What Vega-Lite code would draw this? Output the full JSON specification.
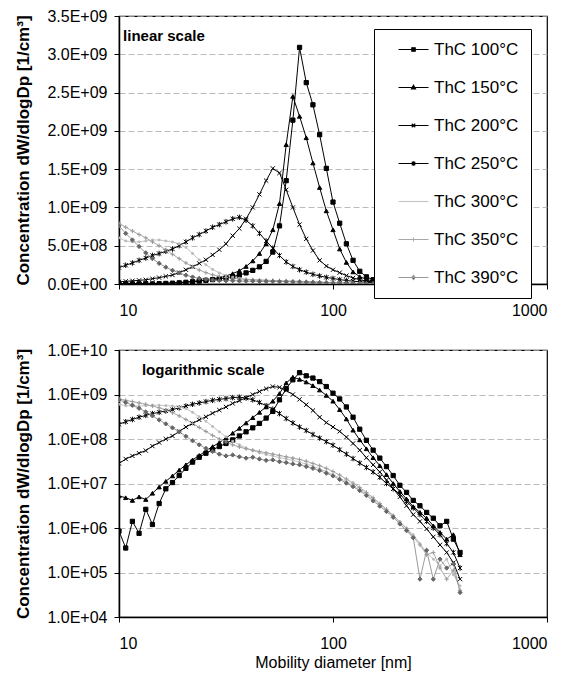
{
  "$schema": "https://vega.github.io/schema/vega-lite/v6.json",
  "padding": {"left": 14, "top": 7, "right": 5, "bottom": 5},
  "background": "#ffffff",
  "datasets": {
    "sizes": [
      {"series":"ThC 100°C","dp":10,"conc":8.51e5},{"series":"ThC 100°C","dp":10.75,"conc":3.55e5},{"series":"ThC 100°C","dp":11.55,"conc":1.41e6},{"series":"ThC 100°C","dp":12.41,"conc":7.59e5},{"series":"ThC 100°C","dp":13.34,"conc":2.63e6},{"series":"ThC 100°C","dp":14.33,"conc":1.2e6},{"series":"ThC 100°C","dp":15.4,"conc":3.55e6},{"series":"ThC 100°C","dp":16.55,"conc":7.59e6},{"series":"ThC 100°C","dp":17.78,"conc":1.05e7},{"series":"ThC 100°C","dp":19.11,"conc":1.51e7},{"series":"ThC 100°C","dp":20.54,"conc":2.19e7},{"series":"ThC 100°C","dp":22.07,"conc":3.02e7},{"series":"ThC 100°C","dp":23.71,"conc":3.89e7},{"series":"ThC 100°C","dp":25.48,"conc":4.79e7},{"series":"ThC 100°C","dp":27.38,"conc":5.75e7},{"series":"ThC 100°C","dp":29.43,"conc":6.76e7},{"series":"ThC 100°C","dp":31.62,"conc":7.94e7},{"series":"ThC 100°C","dp":33.98,"conc":9.55e7},{"series":"ThC 100°C","dp":36.52,"conc":1.17e8},{"series":"ThC 100°C","dp":39.24,"conc":1.45e8},{"series":"ThC 100°C","dp":42.17,"conc":1.78e8},{"series":"ThC 100°C","dp":45.32,"conc":2.24e8},{"series":"ThC 100°C","dp":48.7,"conc":2.95e8},{"series":"ThC 100°C","dp":52.33,"conc":4.17e8},{"series":"ThC 100°C","dp":56.23,"conc":7.59e8},{"series":"ThC 100°C","dp":60.43,"conc":1.35e9},{"series":"ThC 100°C","dp":64.94,"conc":2.14e9},{"series":"ThC 100°C","dp":69.78,"conc":3.09e9},{"series":"ThC 100°C","dp":74.99,"conc":2.63e9},{"series":"ThC 100°C","dp":80.58,"conc":2.34e9},{"series":"ThC 100°C","dp":86.6,"conc":1.95e9},{"series":"ThC 100°C","dp":93.06,"conc":1.51e9},{"series":"ThC 100°C","dp":100,"conc":1.07e9},{"series":"ThC 100°C","dp":107.46,"conc":7.94e8},{"series":"ThC 100°C","dp":115.48,"conc":5.25e8},{"series":"ThC 100°C","dp":124.09,"conc":3.09e8},{"series":"ThC 100°C","dp":133.35,"conc":1.66e8},{"series":"ThC 100°C","dp":143.3,"conc":9.33e7},{"series":"ThC 100°C","dp":153.99,"conc":5.62e7},{"series":"ThC 100°C","dp":165.48,"conc":3.72e7},{"series":"ThC 100°C","dp":177.83,"conc":2.4e7},{"series":"ThC 100°C","dp":191.09,"conc":1.51e7},{"series":"ThC 100°C","dp":205.35,"conc":9.12e6},{"series":"ThC 100°C","dp":220.67,"conc":6.31e6},{"series":"ThC 100°C","dp":237.14,"conc":4.17e6},{"series":"ThC 100°C","dp":254.83,"conc":3.16e6},{"series":"ThC 100°C","dp":273.84,"conc":2.24e6},{"series":"ThC 100°C","dp":294.27,"conc":1.66e6},{"series":"ThC 100°C","dp":316.23,"conc":1.12e6},{"series":"ThC 100°C","dp":339.82,"conc":1.41e6},{"series":"ThC 100°C","dp":365.17,"conc":5.62e5},{"series":"ThC 100°C","dp":392.42,"conc":2.82e5},
      {"series":"ThC 150°C","dp":10,"conc":5.25e6},{"series":"ThC 150°C","dp":10.75,"conc":4.79e6},{"series":"ThC 150°C","dp":11.55,"conc":4.17e6},{"series":"ThC 150°C","dp":12.41,"conc":5.01e6},{"series":"ThC 150°C","dp":13.34,"conc":4.37e6},{"series":"ThC 150°C","dp":14.33,"conc":6.03e6},{"series":"ThC 150°C","dp":15.4,"conc":8.32e6},{"series":"ThC 150°C","dp":16.55,"conc":1.12e7},{"series":"ThC 150°C","dp":17.78,"conc":1.48e7},{"series":"ThC 150°C","dp":19.11,"conc":2.0e7},{"series":"ThC 150°C","dp":20.54,"conc":2.63e7},{"series":"ThC 150°C","dp":22.07,"conc":3.39e7},{"series":"ThC 150°C","dp":23.71,"conc":4.27e7},{"series":"ThC 150°C","dp":25.48,"conc":5.37e7},{"series":"ThC 150°C","dp":27.38,"conc":6.76e7},{"series":"ThC 150°C","dp":29.43,"conc":8.32e7},{"series":"ThC 150°C","dp":31.62,"conc":1.05e8},{"series":"ThC 150°C","dp":33.98,"conc":1.35e8},{"series":"ThC 150°C","dp":36.52,"conc":1.74e8},{"series":"ThC 150°C","dp":39.24,"conc":2.29e8},{"series":"ThC 150°C","dp":42.17,"conc":3.02e8},{"series":"ThC 150°C","dp":45.32,"conc":3.98e8},{"series":"ThC 150°C","dp":48.7,"conc":5.25e8},{"series":"ThC 150°C","dp":52.33,"conc":7.08e8},{"series":"ThC 150°C","dp":56.23,"conc":1.05e9},{"series":"ThC 150°C","dp":60.43,"conc":1.82e9},{"series":"ThC 150°C","dp":64.94,"conc":2.45e9},{"series":"ThC 150°C","dp":69.78,"conc":2.19e9},{"series":"ThC 150°C","dp":74.99,"conc":1.91e9},{"series":"ThC 150°C","dp":80.58,"conc":1.58e9},{"series":"ThC 150°C","dp":86.6,"conc":1.26e9},{"series":"ThC 150°C","dp":93.06,"conc":9.55e8},{"series":"ThC 150°C","dp":100,"conc":7.08e8},{"series":"ThC 150°C","dp":107.46,"conc":4.57e8},{"series":"ThC 150°C","dp":115.48,"conc":2.82e8},{"series":"ThC 150°C","dp":124.09,"conc":1.58e8},{"series":"ThC 150°C","dp":133.35,"conc":9.55e7},{"series":"ThC 150°C","dp":143.3,"conc":6.03e7},{"series":"ThC 150°C","dp":153.99,"conc":3.8e7},{"series":"ThC 150°C","dp":165.48,"conc":2.51e7},{"series":"ThC 150°C","dp":177.83,"conc":1.58e7},{"series":"ThC 150°C","dp":191.09,"conc":1.0e7},{"series":"ThC 150°C","dp":205.35,"conc":6.61e6},{"series":"ThC 150°C","dp":220.67,"conc":4.47e6},{"series":"ThC 150°C","dp":237.14,"conc":3.02e6},{"series":"ThC 150°C","dp":254.83,"conc":2.24e6},{"series":"ThC 150°C","dp":273.84,"conc":1.66e6},{"series":"ThC 150°C","dp":294.27,"conc":1.12e6},{"series":"ThC 150°C","dp":316.23,"conc":7.94e5},{"series":"ThC 150°C","dp":339.82,"conc":5.62e5},{"series":"ThC 150°C","dp":365.17,"conc":7.08e5},{"series":"ThC 150°C","dp":392.42,"conc":2.51e5},
      {"series":"ThC 200°C","dp":10,"conc":2.82e7},{"series":"ThC 200°C","dp":10.75,"conc":3.55e7},{"series":"ThC 200°C","dp":11.55,"conc":4.17e7},{"series":"ThC 200°C","dp":12.41,"conc":4.79e7},{"series":"ThC 200°C","dp":13.34,"conc":5.5e7},{"series":"ThC 200°C","dp":14.33,"conc":6.92e7},{"series":"ThC 200°C","dp":15.4,"conc":8.32e7},{"series":"ThC 200°C","dp":16.55,"conc":1.0e8},{"series":"ThC 200°C","dp":17.78,"conc":1.17e8},{"series":"ThC 200°C","dp":19.11,"conc":1.48e8},{"series":"ThC 200°C","dp":20.54,"conc":1.86e8},{"series":"ThC 200°C","dp":22.07,"conc":2.24e8},{"series":"ThC 200°C","dp":23.71,"conc":2.69e8},{"series":"ThC 200°C","dp":25.48,"conc":3.16e8},{"series":"ThC 200°C","dp":27.38,"conc":3.8e8},{"series":"ThC 200°C","dp":29.43,"conc":4.47e8},{"series":"ThC 200°C","dp":31.62,"conc":5.25e8},{"series":"ThC 200°C","dp":33.98,"conc":6.31e8},{"series":"ThC 200°C","dp":36.52,"conc":7.24e8},{"series":"ThC 200°C","dp":39.24,"conc":8.51e8},{"series":"ThC 200°C","dp":42.17,"conc":1.0e9},{"series":"ThC 200°C","dp":45.32,"conc":1.17e9},{"series":"ThC 200°C","dp":48.7,"conc":1.35e9},{"series":"ThC 200°C","dp":52.33,"conc":1.51e9},{"series":"ThC 200°C","dp":56.23,"conc":1.45e9},{"series":"ThC 200°C","dp":60.43,"conc":1.23e9},{"series":"ThC 200°C","dp":64.94,"conc":1.0e9},{"series":"ThC 200°C","dp":69.78,"conc":7.76e8},{"series":"ThC 200°C","dp":74.99,"conc":5.89e8},{"series":"ThC 200°C","dp":80.58,"conc":4.37e8},{"series":"ThC 200°C","dp":86.6,"conc":3.09e8},{"series":"ThC 200°C","dp":93.06,"conc":2.34e8},{"series":"ThC 200°C","dp":100,"conc":1.86e8},{"series":"ThC 200°C","dp":107.46,"conc":1.48e8},{"series":"ThC 200°C","dp":115.48,"conc":1.1e8},{"series":"ThC 200°C","dp":124.09,"conc":7.94e7},{"series":"ThC 200°C","dp":133.35,"conc":5.62e7},{"series":"ThC 200°C","dp":143.3,"conc":3.8e7},{"series":"ThC 200°C","dp":153.99,"conc":2.63e7},{"series":"ThC 200°C","dp":165.48,"conc":1.82e7},{"series":"ThC 200°C","dp":177.83,"conc":1.2e7},{"series":"ThC 200°C","dp":191.09,"conc":7.59e6},{"series":"ThC 200°C","dp":205.35,"conc":5.01e6},{"series":"ThC 200°C","dp":220.67,"conc":3.16e6},{"series":"ThC 200°C","dp":237.14,"conc":2.0e6},{"series":"ThC 200°C","dp":254.83,"conc":1.41e6},{"series":"ThC 200°C","dp":273.84,"conc":9.55e5},{"series":"ThC 200°C","dp":294.27,"conc":6.31e5},{"series":"ThC 200°C","dp":316.23,"conc":4.17e5},{"series":"ThC 200°C","dp":339.82,"conc":2.82e5},{"series":"ThC 200°C","dp":365.17,"conc":1.66e5},{"series":"ThC 200°C","dp":392.42,"conc":7.08e4},
      {"series":"ThC 250°C","dp":10,"conc":2.14e8},{"series":"ThC 250°C","dp":10.75,"conc":2.45e8},{"series":"ThC 250°C","dp":11.55,"conc":2.75e8},{"series":"ThC 250°C","dp":12.41,"conc":3.09e8},{"series":"ThC 250°C","dp":13.34,"conc":3.39e8},{"series":"ThC 250°C","dp":14.33,"conc":3.72e8},{"series":"ThC 250°C","dp":15.4,"conc":3.98e8},{"series":"ThC 250°C","dp":16.55,"conc":4.27e8},{"series":"ThC 250°C","dp":17.78,"conc":4.57e8},{"series":"ThC 250°C","dp":19.11,"conc":5.01e8},{"series":"ThC 250°C","dp":20.54,"conc":5.5e8},{"series":"ThC 250°C","dp":22.07,"conc":6.03e8},{"series":"ThC 250°C","dp":23.71,"conc":6.46e8},{"series":"ThC 250°C","dp":25.48,"conc":6.92e8},{"series":"ThC 250°C","dp":27.38,"conc":7.41e8},{"series":"ThC 250°C","dp":29.43,"conc":7.76e8},{"series":"ThC 250°C","dp":31.62,"conc":8.13e8},{"series":"ThC 250°C","dp":33.98,"conc":8.51e8},{"series":"ThC 250°C","dp":36.52,"conc":8.71e8},{"series":"ThC 250°C","dp":39.24,"conc":8.32e8},{"series":"ThC 250°C","dp":42.17,"conc":7.59e8},{"series":"ThC 250°C","dp":45.32,"conc":6.61e8},{"series":"ThC 250°C","dp":48.7,"conc":5.62e8},{"series":"ThC 250°C","dp":52.33,"conc":4.68e8},{"series":"ThC 250°C","dp":56.23,"conc":3.72e8},{"series":"ThC 250°C","dp":60.43,"conc":2.88e8},{"series":"ThC 250°C","dp":64.94,"conc":2.29e8},{"series":"ThC 250°C","dp":69.78,"conc":1.86e8},{"series":"ThC 250°C","dp":74.99,"conc":1.55e8},{"series":"ThC 250°C","dp":80.58,"conc":1.26e8},{"series":"ThC 250°C","dp":86.6,"conc":1.05e8},{"series":"ThC 250°C","dp":93.06,"conc":8.71e7},{"series":"ThC 250°C","dp":100,"conc":7.24e7},{"series":"ThC 250°C","dp":107.46,"conc":5.75e7},{"series":"ThC 250°C","dp":115.48,"conc":4.57e7},{"series":"ThC 250°C","dp":124.09,"conc":3.63e7},{"series":"ThC 250°C","dp":133.35,"conc":2.88e7},{"series":"ThC 250°C","dp":143.3,"conc":2.29e7},{"series":"ThC 250°C","dp":153.99,"conc":1.82e7},{"series":"ThC 250°C","dp":165.48,"conc":1.38e7},{"series":"ThC 250°C","dp":177.83,"conc":1.0e7},{"series":"ThC 250°C","dp":191.09,"conc":7.59e6},{"series":"ThC 250°C","dp":205.35,"conc":5.75e6},{"series":"ThC 250°C","dp":220.67,"conc":3.98e6},{"series":"ThC 250°C","dp":237.14,"conc":2.82e6},{"series":"ThC 250°C","dp":254.83,"conc":2.0e6},{"series":"ThC 250°C","dp":273.84,"conc":1.41e6},{"series":"ThC 250°C","dp":294.27,"conc":1.0e6},{"series":"ThC 250°C","dp":316.23,"conc":7.08e5},{"series":"ThC 250°C","dp":339.82,"conc":4.47e5},{"series":"ThC 250°C","dp":365.17,"conc":2.82e5},{"series":"ThC 250°C","dp":392.42,"conc":1.26e5},
      {"series":"ThC 300°C","dp":10,"conc":6.03e8},{"series":"ThC 300°C","dp":10.75,"conc":5.62e8},{"series":"ThC 300°C","dp":11.55,"conc":5.5e8},{"series":"ThC 300°C","dp":12.41,"conc":5.5e8},{"series":"ThC 300°C","dp":13.34,"conc":5.62e8},{"series":"ThC 300°C","dp":14.33,"conc":5.75e8},{"series":"ThC 300°C","dp":15.4,"conc":5.75e8},{"series":"ThC 300°C","dp":16.55,"conc":5.62e8},{"series":"ThC 300°C","dp":17.78,"conc":5.5e8},{"series":"ThC 300°C","dp":19.11,"conc":5.25e8},{"series":"ThC 300°C","dp":20.54,"conc":4.79e8},{"series":"ThC 300°C","dp":22.07,"conc":3.98e8},{"series":"ThC 300°C","dp":23.71,"conc":3.16e8},{"series":"ThC 300°C","dp":25.48,"conc":2.51e8},{"series":"ThC 300°C","dp":27.38,"conc":1.91e8},{"series":"ThC 300°C","dp":29.43,"conc":1.45e8},{"series":"ThC 300°C","dp":31.62,"conc":1.12e8},{"series":"ThC 300°C","dp":33.98,"conc":8.91e7},{"series":"ThC 300°C","dp":36.52,"conc":7.41e7},{"series":"ThC 300°C","dp":39.24,"conc":6.31e7},{"series":"ThC 300°C","dp":42.17,"conc":5.5e7},{"series":"ThC 300°C","dp":45.32,"conc":4.9e7},{"series":"ThC 300°C","dp":48.7,"conc":4.47e7},{"series":"ThC 300°C","dp":52.33,"conc":4.17e7},{"series":"ThC 300°C","dp":56.23,"conc":3.8e7},{"series":"ThC 300°C","dp":60.43,"conc":3.55e7},{"series":"ThC 300°C","dp":64.94,"conc":3.31e7},{"series":"ThC 300°C","dp":69.78,"conc":3.02e7},{"series":"ThC 300°C","dp":74.99,"conc":2.75e7},{"series":"ThC 300°C","dp":80.58,"conc":2.45e7},{"series":"ThC 300°C","dp":86.6,"conc":2.14e7},{"series":"ThC 300°C","dp":93.06,"conc":1.86e7},{"series":"ThC 300°C","dp":100,"conc":1.58e7},{"series":"ThC 300°C","dp":107.46,"conc":1.32e7},{"series":"ThC 300°C","dp":115.48,"conc":1.1e7},{"series":"ThC 300°C","dp":124.09,"conc":8.91e6},{"series":"ThC 300°C","dp":133.35,"conc":7.24e6},{"series":"ThC 300°C","dp":143.3,"conc":5.75e6},{"series":"ThC 300°C","dp":153.99,"conc":4.47e6},{"series":"ThC 300°C","dp":165.48,"conc":3.31e6},{"series":"ThC 300°C","dp":177.83,"conc":2.51e6},{"series":"ThC 300°C","dp":191.09,"conc":1.91e6},{"series":"ThC 300°C","dp":205.35,"conc":1.38e6},{"series":"ThC 300°C","dp":220.67,"conc":1.0e6},{"series":"ThC 300°C","dp":237.14,"conc":7.08e5},{"series":"ThC 300°C","dp":254.83,"conc":4.47e5},{"series":"ThC 300°C","dp":273.84,"conc":2.82e5},{"series":"ThC 300°C","dp":294.27,"conc":2.0e5},{"series":"ThC 300°C","dp":316.23,"conc":1.41e5},{"series":"ThC 300°C","dp":339.82,"conc":2.0e5},{"series":"ThC 300°C","dp":365.17,"conc":8.91e4},{"series":"ThC 300°C","dp":392.42,"conc":5.01e4},
      {"series":"ThC 350°C","dp":10,"conc":7.94e8},{"series":"ThC 350°C","dp":10.75,"conc":7.41e8},{"series":"ThC 350°C","dp":11.55,"conc":6.92e8},{"series":"ThC 350°C","dp":12.41,"conc":6.46e8},{"series":"ThC 350°C","dp":13.34,"conc":6.03e8},{"series":"ThC 350°C","dp":14.33,"conc":5.5e8},{"series":"ThC 350°C","dp":15.4,"conc":5.01e8},{"series":"ThC 350°C","dp":16.55,"conc":4.47e8},{"series":"ThC 350°C","dp":17.78,"conc":3.89e8},{"series":"ThC 350°C","dp":19.11,"conc":3.31e8},{"series":"ThC 350°C","dp":20.54,"conc":2.75e8},{"series":"ThC 350°C","dp":22.07,"conc":2.24e8},{"series":"ThC 350°C","dp":23.71,"conc":1.82e8},{"series":"ThC 350°C","dp":25.48,"conc":1.48e8},{"series":"ThC 350°C","dp":27.38,"conc":1.2e8},{"series":"ThC 350°C","dp":29.43,"conc":1.0e8},{"series":"ThC 350°C","dp":31.62,"conc":8.51e7},{"series":"ThC 350°C","dp":33.98,"conc":7.41e7},{"series":"ThC 350°C","dp":36.52,"conc":6.61e7},{"series":"ThC 350°C","dp":39.24,"conc":6.03e7},{"series":"ThC 350°C","dp":42.17,"conc":5.62e7},{"series":"ThC 350°C","dp":45.32,"conc":5.25e7},{"series":"ThC 350°C","dp":48.7,"conc":4.9e7},{"series":"ThC 350°C","dp":52.33,"conc":4.57e7},{"series":"ThC 350°C","dp":56.23,"conc":4.27e7},{"series":"ThC 350°C","dp":60.43,"conc":3.98e7},{"series":"ThC 350°C","dp":64.94,"conc":3.72e7},{"series":"ThC 350°C","dp":69.78,"conc":3.47e7},{"series":"ThC 350°C","dp":74.99,"conc":3.16e7},{"series":"ThC 350°C","dp":80.58,"conc":2.82e7},{"series":"ThC 350°C","dp":86.6,"conc":2.51e7},{"series":"ThC 350°C","dp":93.06,"conc":2.19e7},{"series":"ThC 350°C","dp":100,"conc":1.86e7},{"series":"ThC 350°C","dp":107.46,"conc":1.55e7},{"series":"ThC 350°C","dp":115.48,"conc":1.26e7},{"series":"ThC 350°C","dp":124.09,"conc":1.02e7},{"series":"ThC 350°C","dp":133.35,"conc":8.13e6},{"series":"ThC 350°C","dp":143.3,"conc":6.31e6},{"series":"ThC 350°C","dp":153.99,"conc":4.79e6},{"series":"ThC 350°C","dp":165.48,"conc":3.55e6},{"series":"ThC 350°C","dp":177.83,"conc":2.63e6},{"series":"ThC 350°C","dp":191.09,"conc":1.91e6},{"series":"ThC 350°C","dp":205.35,"conc":1.35e6},{"series":"ThC 350°C","dp":220.67,"conc":9.55e5},{"series":"ThC 350°C","dp":237.14,"conc":6.31e5},{"series":"ThC 350°C","dp":254.83,"conc":4.17e5},{"series":"ThC 350°C","dp":273.84,"conc":2.51e5},{"series":"ThC 350°C","dp":294.27,"conc":2.82e5},{"series":"ThC 350°C","dp":316.23,"conc":1.26e5},{"series":"ThC 350°C","dp":339.82,"conc":7.08e4},{"series":"ThC 350°C","dp":365.17,"conc":1.12e5},{"series":"ThC 350°C","dp":392.42,"conc":3.98e4},
      {"series":"ThC 390°C","dp":10,"conc":7.59e8},{"series":"ThC 390°C","dp":10.75,"conc":6.61e8},{"series":"ThC 390°C","dp":11.55,"conc":5.75e8},{"series":"ThC 390°C","dp":12.41,"conc":4.9e8},{"series":"ThC 390°C","dp":13.34,"conc":4.07e8},{"series":"ThC 390°C","dp":14.33,"conc":3.31e8},{"series":"ThC 390°C","dp":15.4,"conc":2.69e8},{"series":"ThC 390°C","dp":16.55,"conc":2.19e8},{"series":"ThC 390°C","dp":17.78,"conc":1.78e8},{"series":"ThC 390°C","dp":19.11,"conc":1.45e8},{"series":"ThC 390°C","dp":20.54,"conc":1.15e8},{"series":"ThC 390°C","dp":22.07,"conc":9.12e7},{"series":"ThC 390°C","dp":23.71,"conc":7.41e7},{"series":"ThC 390°C","dp":25.48,"conc":6.17e7},{"series":"ThC 390°C","dp":27.38,"conc":5.25e7},{"series":"ThC 390°C","dp":29.43,"conc":4.57e7},{"series":"ThC 390°C","dp":31.62,"conc":4.17e7},{"series":"ThC 390°C","dp":33.98,"conc":4.37e7},{"series":"ThC 390°C","dp":36.52,"conc":3.98e7},{"series":"ThC 390°C","dp":39.24,"conc":3.72e7},{"series":"ThC 390°C","dp":42.17,"conc":3.89e7},{"series":"ThC 390°C","dp":45.32,"conc":3.55e7},{"series":"ThC 390°C","dp":48.7,"conc":3.31e7},{"series":"ThC 390°C","dp":52.33,"conc":3.39e7},{"series":"ThC 390°C","dp":56.23,"conc":3.09e7},{"series":"ThC 390°C","dp":60.43,"conc":2.95e7},{"series":"ThC 390°C","dp":64.94,"conc":2.75e7},{"series":"ThC 390°C","dp":69.78,"conc":2.63e7},{"series":"ThC 390°C","dp":74.99,"conc":2.4e7},{"series":"ThC 390°C","dp":80.58,"conc":2.19e7},{"series":"ThC 390°C","dp":86.6,"conc":1.95e7},{"series":"ThC 390°C","dp":93.06,"conc":1.7e7},{"series":"ThC 390°C","dp":100,"conc":1.48e7},{"series":"ThC 390°C","dp":107.46,"conc":1.23e7},{"series":"ThC 390°C","dp":115.48,"conc":1.02e7},{"series":"ThC 390°C","dp":124.09,"conc":8.51e6},{"series":"ThC 390°C","dp":133.35,"conc":6.92e6},{"series":"ThC 390°C","dp":143.3,"conc":5.37e6},{"series":"ThC 390°C","dp":153.99,"conc":4.07e6},{"series":"ThC 390°C","dp":165.48,"conc":3.09e6},{"series":"ThC 390°C","dp":177.83,"conc":2.34e6},{"series":"ThC 390°C","dp":191.09,"conc":1.74e6},{"series":"ThC 390°C","dp":205.35,"conc":1.23e6},{"series":"ThC 390°C","dp":220.67,"conc":8.71e5},{"series":"ThC 390°C","dp":237.14,"conc":6.03e5},{"series":"ThC 390°C","dp":254.83,"conc":7.08e4},{"series":"ThC 390°C","dp":273.84,"conc":3.16e5},{"series":"ThC 390°C","dp":294.27,"conc":7.08e4},{"series":"ThC 390°C","dp":316.23,"conc":2.0e5},{"series":"ThC 390°C","dp":339.82,"conc":1.26e5},{"series":"ThC 390°C","dp":365.17,"conc":1.58e5},{"series":"ThC 390°C","dp":392.42,"conc":3.55e4}
    ]
  },
  "vconcat": [
    {
      "width": 428,
      "height": 268,
      "encoding": {
        "x": {"field": "dp", "type": "quantitative", "scale": {"type": "log", "domain": [10, 1000], "nice": false},
              "axis": {"values": [10, 100, 1000], "format": "d", "grid": false, "title": null, "labelPadding": 13}},
        "y": {"field": "conc", "type": "quantitative", "scale": {"domain": [0, 3500000000], "nice": false, "zero": true},
              "axis": {"values": [0, 500000000, 1000000000, 1500000000, 2000000000, 2500000000, 3000000000, 3500000000],
                       "labelExpr": "replace(upper(format(datum.value, '.1e')), 'E+', 'E+0')",
                       "title": "Concentration dW/dlogDp [1/cm³]", "grid": true}}
      },
      "layer": [
        {
          "data": {"name": "sizes"},
          "mark": {"type": "line", "strokeWidth": 1, "clip": true},
          "encoding": {
            "stroke": {"field": "series", "type": "nominal", "legend": null,
                       "scale": {"domain": ["ThC 100°C","ThC 150°C","ThC 200°C","ThC 250°C","ThC 300°C","ThC 350°C","ThC 390°C"],
                                 "range": ["#000000","#000000","#000000","#000000","#c4c4c4","#a8a8a8","#9a9a9a"]}}
          }
        },
        {
          "data": {"name": "sizes"},
          "mark": {"type": "point", "filled": true, "size": 18, "strokeWidth": 1, "opacity": 1, "clip": true},
          "encoding": {
            "shape": {"field": "series", "type": "nominal", "legend": null,
                      "scale": {"domain": ["ThC 100°C","ThC 150°C","ThC 200°C","ThC 250°C","ThC 300°C","ThC 350°C","ThC 390°C"],
                                "range": ["square","triangle-up","M-1,-1L1,1M-1,1L1,-1","M-1,-1L1,1M-1,1L1,-1M0,-1.3L0,1.3","M-0.4,-0.4H0.4V0.4H-0.4Z","M-1,0L1,0M0,-1L0,1","diamond"]}},
            "fill": {"field": "series", "type": "nominal", "legend": null,
                     "scale": {"domain": ["ThC 100°C","ThC 150°C","ThC 200°C","ThC 250°C","ThC 300°C","ThC 350°C","ThC 390°C"],
                               "range": ["#000000","#000000","#000000","#000000","#bbbbbb","#999999","#666666"]}},
            "stroke": {"field": "series", "type": "nominal", "legend": null,
                       "scale": {"domain": ["ThC 100°C","ThC 150°C","ThC 200°C","ThC 250°C","ThC 300°C","ThC 350°C","ThC 390°C"],
                                 "range": ["#000000","#000000","#000000","#000000","#bbbbbb","#999999","#666666"]}}
          }
        },
        {
          "data": {"name": "sizes"},
          "transform": [{"filter": "datum.conc < 0"}],
          "mark": {"type": "point", "filled": false, "fill": "#000000", "size": 100, "strokeWidth": 1.1, "opacity": 1},
          "encoding": {
            "color": {"field": "series", "type": "nominal",
                      "scale": {"domain": ["ThC 100°C","ThC 150°C","ThC 200°C","ThC 250°C","ThC 300°C","ThC 350°C","ThC 390°C"],
                                "range": ["#000000","#000000","#000000","#000000","#c4c4c4","#a8a8a8","#9a9a9a"]},
                      "legend": {"orient": "none", "legendX": 255, "legendY": 13, "title": null, "strokeColor": "#000000", "fillColor": "#ffffff",
                                 "padding": 12, "labelFontSize": 17, "labelOffset": 12, "symbolOffset": 19, "rowPadding": 20, "symbolSize": 100,
                                 "symbolStrokeWidth": 1.1, "labelColor": "#000000", "labelFont": "Liberation Sans"}},
            "shape": {"field": "series", "type": "nominal",
                      "scale": {"domain": ["ThC 100°C","ThC 150°C","ThC 200°C","ThC 250°C","ThC 300°C","ThC 350°C","ThC 390°C"],
                                "range": ["M-3,0H3M-0.35,-0.35H0.35V0.35H-0.35Z","M-3,0H3M0,-0.45L0.42,0.3H-0.42Z","M-3,0H3M-0.35,-0.35L0.35,0.35M-0.35,0.35L0.35,-0.35","M-3,0H3M-0.35,-0.35L0.35,0.35M-0.35,0.35L0.35,-0.35M0,-0.45V0.45","M-3,0H3","M-3,0H3M0,-0.4V0.4","M-3,0H3M0,-0.42L0.35,0L0,0.42L-0.35,0Z"]},
                      "legend": {"orient": "none", "legendX": 255, "legendY": 13, "title": null, "strokeColor": "#000000", "fillColor": "#ffffff",
                                 "padding": 12, "labelFontSize": 17, "labelOffset": 12, "symbolOffset": 19, "rowPadding": 20, "symbolSize": 100,
                                 "symbolStrokeWidth": 1.1, "labelColor": "#000000", "labelFont": "Liberation Sans"}}
          }
        },
        {
          "data": {"values": [{"dp": 10.45, "conc": 3240000000, "label": "linear scale"}]},
          "mark": {"type": "text", "align": "left", "baseline": "middle", "fontSize": 15, "fontWeight": "bold", "font": "Liberation Sans", "color": "#000000"},
          "encoding": {"text": {"field": "label", "type": "nominal"}}
        }
      ],
      "resolve": {"scale": {"shape": "independent", "color": "independent", "stroke": "independent"},
                  "legend": {"shape": "independent", "color": "independent", "stroke": "independent"}}
    },
    {
      "width": 428,
      "height": 267,
      "encoding": {
        "x": {"field": "dp", "type": "quantitative", "scale": {"type": "log", "domain": [10, 1000], "nice": false},
              "axis": {"values": [10, 100, 1000], "format": "d", "grid": false, "title": "Mobility diameter [nm]", "labelPadding": 13,
                       "titlePadding": 3, "titleFontWeight": "normal", "titleFontSize": 16}},
        "y": {"field": "conc", "type": "quantitative", "scale": {"type": "log", "domain": [10000, 10000000000], "nice": false},
              "axis": {"values": [10000, 100000, 1000000, 10000000, 100000000, 1000000000, 10000000000],
                       "labelExpr": "datum.value >= 1e10 ? '1.0E+10' : replace(upper(format(datum.value, '.1e')), 'E+', 'E+0')",
                       "title": "Concentration dW/dlogDp [1/cm³]", "grid": true}}
      },
      "layer": [
        {
          "data": {"name": "sizes"},
          "mark": {"type": "line", "strokeWidth": 1, "clip": true},
          "encoding": {
            "stroke": {"field": "series", "type": "nominal", "legend": null,
                       "scale": {"domain": ["ThC 100°C","ThC 150°C","ThC 200°C","ThC 250°C","ThC 300°C","ThC 350°C","ThC 390°C"],
                                 "range": ["#000000","#000000","#000000","#000000","#c4c4c4","#a8a8a8","#9a9a9a"]}}
          }
        },
        {
          "data": {"name": "sizes"},
          "mark": {"type": "point", "filled": true, "size": 18, "strokeWidth": 1, "opacity": 1, "clip": true},
          "encoding": {
            "shape": {"field": "series", "type": "nominal", "legend": null,
                      "scale": {"domain": ["ThC 100°C","ThC 150°C","ThC 200°C","ThC 250°C","ThC 300°C","ThC 350°C","ThC 390°C"],
                                "range": ["square","triangle-up","M-1,-1L1,1M-1,1L1,-1","M-1,-1L1,1M-1,1L1,-1M0,-1.3L0,1.3","M-0.4,-0.4H0.4V0.4H-0.4Z","M-1,0L1,0M0,-1L0,1","diamond"]}},
            "fill": {"field": "series", "type": "nominal", "legend": null,
                     "scale": {"domain": ["ThC 100°C","ThC 150°C","ThC 200°C","ThC 250°C","ThC 300°C","ThC 350°C","ThC 390°C"],
                               "range": ["#000000","#000000","#000000","#000000","#bbbbbb","#999999","#666666"]}},
            "stroke": {"field": "series", "type": "nominal", "legend": null,
                       "scale": {"domain": ["ThC 100°C","ThC 150°C","ThC 200°C","ThC 250°C","ThC 300°C","ThC 350°C","ThC 390°C"],
                                 "range": ["#000000","#000000","#000000","#000000","#bbbbbb","#999999","#666666"]}}
          }
        },
        {
          "data": {"values": [{"dp": 12.8, "conc": 3550000000, "label": "logarithmic scale"}]},
          "mark": {"type": "text", "align": "left", "baseline": "middle", "fontSize": 15, "fontWeight": "bold", "font": "Liberation Sans", "color": "#000000"},
          "encoding": {"text": {"field": "label", "type": "nominal"}}
        }
      ],
      "resolve": {"scale": {"stroke": "independent"}, "legend": {"stroke": "independent"}}
    }
  ],
  "spacing": 66,
  "bounds": "flush",
  "resolve": {"scale": {"x": "independent", "y": "independent", "stroke": "independent", "fill": "independent", "shape": "independent", "color": "independent"},
              "legend": {"stroke": "independent", "fill": "independent", "shape": "independent", "color": "independent"}},
  "config": {
    "font": "Liberation Sans",
    "view": {"stroke": "#000000", "strokeWidth": 1.2},
    "axis": {"labelFont": "Liberation Sans", "labelFontSize": 16, "labelColor": "#000000", "titleColor": "#000000",
             "titleFont": "Liberation Sans", "titleFontSize": 17, "titleFontWeight": "bold", "titlePadding": 14,
             "domainColor": "#000000", "domainWidth": 1.5, "tickColor": "#000000", "tickSize": 5, "labelPadding": 7,
             "gridColor": "#aaaaaa", "gridDash": [6, 3], "gridWidth": 0.8}
  }
}
